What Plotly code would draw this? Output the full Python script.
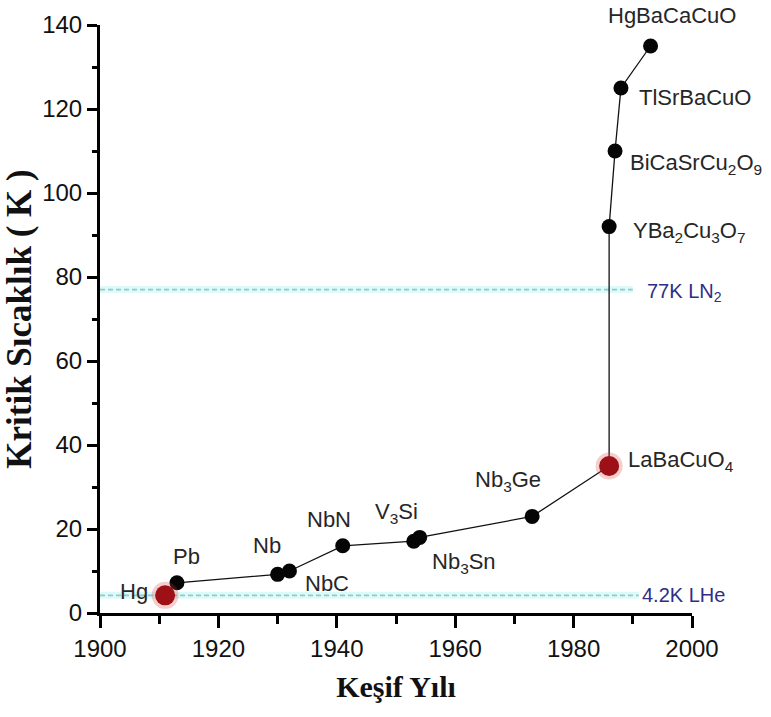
import plotly.graph_objects as go

# Discovery year and critical temperature of superconducting materials
materials = ["Hg", "Pb", "Nb", "NbC", "NbN", "V<sub>3</sub>Si", "Nb<sub>3</sub>Sn",
             "Nb<sub>3</sub>Ge", "LaBaCuO<sub>4</sub>", "YBa<sub>2</sub>Cu<sub>3</sub>O<sub>7</sub>",
             "BiCaSrCu<sub>2</sub>O<sub>9</sub>", "TlSrBaCuO", "HgBaCaCuO"]
years = [1911, 1913, 1930, 1932, 1941, 1953, 1954, 1973, 1986, 1986, 1987, 1988, 1993]
tc_kelvin = [4.2, 7.2, 9.2, 10, 16, 17.1, 18, 23, 35, 92, 110, 125, 135]
highlighted = ["Hg", "LaBaCuO<sub>4</sub>"]

# Coolant reference temperatures
coolant_names = ["77K LN<sub>2</sub>", "4.2K LHe"]
coolant_temps = [77, 4.2]
coolant_line_end = [1990, 1991]

# Label placement: (xanchor, yanchor, xshift px, yshift px)
label_pos = {
    "Hg": ("right", "middle", -15, 4),
    "Pb": ("center", "bottom", 10, 12),
    "Nb": ("center", "bottom", -11, 14),
    "NbC": ("left", "middle", 14, -12),
    "NbN": ("center", "bottom", -14, 12),
    "V<sub>3</sub>Si": ("center", "bottom", -17, 12),
    "Nb<sub>3</sub>Sn": ("left", "top", 10, -10),
    "Nb<sub>3</sub>Ge": ("center", "bottom", -24, 19),
    "LaBaCuO<sub>4</sub>": ("left", "middle", 17, 5),
    "YBa<sub>2</sub>Cu<sub>3</sub>O<sub>7</sub>": ("left", "middle", 22, -5),
    "BiCaSrCu<sub>2</sub>O<sub>9</sub>": ("left", "middle", 13, -13),
    "TlSrBaCuO": ("left", "middle", 16, -9),
    "HgBaCaCuO": ("center", "bottom", 21, 16),
}
coolant_shift = {"77K LN<sub>2</sub>": (12, -3), "4.2K LHe": (1, 0)}

label_font = dict(family="Liberation Sans, Arial, sans-serif", size=22, color="#262626")
tick_font = dict(family="Liberation Sans, Arial, sans-serif", size=24, color="#111111")
title_font = dict(family="Liberation Serif, Times New Roman, serif", size=30, color="#111111")

fig = go.Figure()

# Coolant reference lines with a faint haze
for name, t, xe in zip(coolant_names, coolant_temps, coolant_line_end):
    fig.add_trace(go.Scatter(x=[1900, xe], y=[t, t], mode="lines",
                             line=dict(color="rgba(170,235,235,0.35)", width=7),
                             hoverinfo="skip", showlegend=False))
    fig.add_trace(go.Scatter(x=[1900, xe], y=[t, t], mode="lines",
                             line=dict(color="#86cfd0", width=1.6, dash="5px,3px"),
                             hoverinfo="skip", showlegend=False))
    dx, dy = coolant_shift[name]
    fig.add_annotation(x=xe, y=t, text=name, showarrow=False, xanchor="left", yanchor="middle",
                       xshift=dx, yshift=dy,
                       font=dict(family="Liberation Sans, Arial, sans-serif", size=20, color="#2e2e86"))

# Connecting line and markers
fig.add_trace(go.Scatter(x=years, y=tc_kelvin, mode="lines+markers",
                         line=dict(color="#111111", width=1.3),
                         marker=dict(color="#050505", size=15, line=dict(width=0)),
                         hoverinfo="skip", showlegend=False))

hx = [x for x, m in zip(years, materials) if m in highlighted]
hy = [y for y, m in zip(tc_kelvin, materials) if m in highlighted]
fig.add_trace(go.Scatter(x=hx, y=hy, mode="markers",
                         marker=dict(color="rgba(215,60,60,0.25)", size=27, line=dict(width=0)),
                         hoverinfo="skip", showlegend=False))
fig.add_trace(go.Scatter(x=hx, y=hy, mode="markers",
                         marker=dict(color="#9c1016", size=20, line=dict(width=0)),
                         hoverinfo="skip", showlegend=False))

for m, x, y in zip(materials, years, tc_kelvin):
    xa, ya, dx, dy = label_pos[m]
    fig.add_annotation(x=x, y=y, text=m, showarrow=False, xanchor=xa, yanchor=ya,
                       xshift=dx, yshift=dy, font=label_font)

axis_common = dict(showline=True, linecolor="#000000", linewidth=3, ticks="outside",
                   tickcolor="#000000", tickwidth=2.5, showgrid=False, zeroline=False,
                   tickfont=tick_font, mirror=False)

fig.update_xaxes(range=[1900, 2000], tick0=1900, dtick=20, ticklen=12,
                 minor=dict(ticks="outside", dtick=10, ticklen=8, tickwidth=2.5, tickcolor="#000000"),
                 title=dict(text="<b>Keşif Yılı</b>", font=title_font, standoff=16),
                 **axis_common)
fig.update_yaxes(range=[0, 140], tick0=0, dtick=20, ticklen=10,
                 minor=dict(ticks="outside", dtick=10, ticklen=5, tickwidth=2.5, tickcolor="#000000"),
                 title=dict(text="<b>Kritik Sıcaklık ( K )</b>", font=dict(title_font, size=35), standoff=4),
                 **axis_common)

fig.update_layout(width=771, height=717, margin=dict(l=100, r=79, t=25, b=104),
                  plot_bgcolor="white", paper_bgcolor="white")

fig.write_html("out.html")
